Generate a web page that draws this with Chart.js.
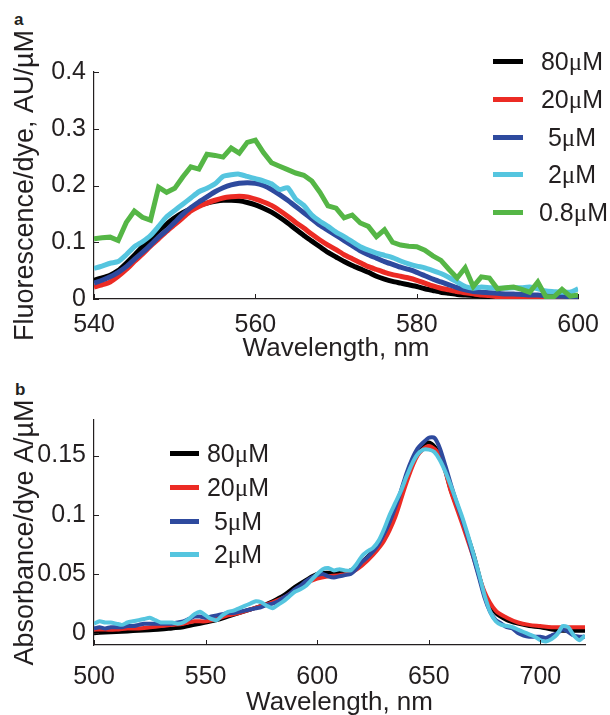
<!DOCTYPE html>
<html>
<head>
<meta charset="utf-8">
<script src="https://cdn.jsdelivr.net/npm/chart.js@4.4.1/dist/chart.umd.min.js"></script>
<style>
  body { margin: 0; width: 610px; height: 715px; overflow: hidden; position: relative; background: #fff; }
  .tag { position: absolute; font: bold 17px "Liberation Sans", Arial, sans-serif; color: #231f20; }
  .wrap { position: absolute; left: 0; width: 610px; }
  .legend { position: absolute; font: 25px "Liberation Sans", Arial, sans-serif; color: #231f20; }
  .legend .row { display: flex; align-items: center; }
  .legend .swatch { height: 5px; }
  .legend .txt { text-align: center; white-space: nowrap; }
  .mu { font-family: "Liberation Serif", "DejaVu Serif", serif; }
</style>
</head>
<body>
<div class="tag" style="left:14px; top:10px">a</div>
<div class="tag" style="left:15px; top:380px">b</div>
<div class="wrap" style="top:0; height:366px"><canvas id="chartA" width="610" height="366"></canvas></div>
<div class="wrap" style="top:360px; height:370px"><canvas id="chartB" width="610" height="370"></canvas></div>
<div id="legendA" class="legend" style="left:493px; top:43px"></div>
<div id="legendB" class="legend" style="left:170px; top:437px"></div>

<script>
const FONT = '"Liberation Sans", Arial, Helvetica, sans-serif';
const INK = "#231f20";

// ---- panel a: fluorescence ----
const labelsA = ["80µM", "20µM", "5µM", "2µM", "0.8µM"];
const colorsA = ["#000000", "#ec2b24", "#2e4a9e", "#55c5df", "#55b646"];
const xTicksA = [540, 560, 580, 600];
const yTicksA = [0, 0.1, 0.2, 0.3, 0.4];
const yTickLabelsA = ["0", "0.1", "0.2", "0.3", "0.4"];

const wlA = [540, 541, 542, 543, 544, 545, 546, 547, 548, 549,
  550, 551, 552, 553, 554, 555, 556, 557, 558, 559,
  560, 561, 562, 563, 564, 565, 566, 567, 568, 569,
  570, 571, 572, 573, 574, 575, 576, 577, 578, 579,
  580, 581, 582, 583, 584, 585, 586, 587, 588, 589,
  590, 591, 592, 593, 594, 595, 596, 597, 598, 599, 600];

const fl80 = [0.033, 0.037, 0.042, 0.050, 0.063, 0.077, 0.092, 0.106, 0.120, 0.132,
  0.143, 0.152, 0.159, 0.165, 0.169, 0.172, 0.174, 0.174, 0.173, 0.170,
  0.166, 0.160, 0.153, 0.144, 0.134, 0.123, 0.112, 0.102, 0.092, 0.082,
  0.074, 0.066, 0.059, 0.053, 0.047, 0.040, 0.035, 0.031, 0.028, 0.025,
  0.022, 0.018, 0.015, 0.012, 0.010, 0.008, 0.007, 0.006, 0.005, 0.004,
  0.003, 0.002, 0.002, 0.001, 0.001, 0.001, 0, 0, 0, 0, 0];
const fl20 = [0.021, 0.025, 0.030, 0.040, 0.052, 0.066, 0.079, 0.093, 0.106, 0.119,
  0.131, 0.143, 0.155, 0.163, 0.169, 0.174, 0.178, 0.180, 0.181, 0.180,
  0.176, 0.171, 0.165, 0.156, 0.146, 0.135, 0.125, 0.114, 0.104, 0.095,
  0.087, 0.078, 0.071, 0.064, 0.057, 0.052, 0.047, 0.043, 0.040, 0.037,
  0.033, 0.028, 0.023, 0.019, 0.016, 0.013, 0.011, 0.009, 0.007, 0.006,
  0.004, 0.004, 0.003, 0.002, 0.002, 0.002, 0.001, 0.001, 0.001, 0.001, 0.001];
const fl5 = [0.028, 0.033, 0.039, 0.047, 0.057, 0.070, 0.082, 0.095, 0.109, 0.121,
  0.135, 0.149, 0.161, 0.171, 0.180, 0.189, 0.196, 0.201, 0.204, 0.205,
  0.204, 0.200, 0.193, 0.184, 0.174, 0.163, 0.152, 0.141, 0.130, 0.121,
  0.112, 0.103, 0.094, 0.085, 0.078, 0.072, 0.066, 0.061, 0.056, 0.052,
  0.047, 0.041, 0.035, 0.030, 0.025, 0.020, 0.016, 0.013, 0.012, 0.011,
  0.010, 0.009, 0.009, 0.008, 0.007, 0.007, 0.006, 0.005, 0.005, 0.004, 0.004];
const fl2 = [0.054, 0.058, 0.063, 0.066, 0.078, 0.092, 0.101, 0.112, 0.128, 0.145,
  0.156, 0.167, 0.178, 0.189, 0.195, 0.203, 0.216, 0.219, 0.220, 0.216,
  0.212, 0.208, 0.203, 0.193, 0.196, 0.176, 0.165, 0.148, 0.137, 0.128,
  0.118, 0.110, 0.101, 0.092, 0.086, 0.081, 0.077, 0.073, 0.067, 0.062,
  0.058, 0.055, 0.050, 0.045, 0.038, 0.030, 0.022, 0.019, 0.021, 0.020,
  0.019, 0.019, 0.020, 0.020, 0.021, 0.018, 0.014, 0.013, 0.012, 0.012, 0.018];
const fl08 = [0.106, 0.108, 0.109, 0.103, 0.135, 0.155, 0.144, 0.139, 0.197, 0.188,
  0.195, 0.215, 0.233, 0.229, 0.255, 0.253, 0.250, 0.266, 0.257, 0.276,
  0.280, 0.258, 0.240, 0.234, 0.228, 0.222, 0.218, 0.208, 0.188, 0.164,
  0.160, 0.143, 0.148, 0.134, 0.128, 0.110, 0.122, 0.100, 0.095, 0.093,
  0.092, 0.086, 0.076, 0.068, 0.052, 0.037, 0.055, 0.022, 0.039, 0.037,
  0.018, 0.020, 0.021, 0.017, 0.012, 0.030, 0.004, 0.004, 0.017, 0.005, 0.007];

// ---- panel b: absorbance ----
const labelsB = ["80µM", "20µM", "5µM", "2µM"];
const colorsB = ["#000000", "#ec2b24", "#2e4a9e", "#55c5df"];
const xTicksB = [500, 550, 600, 650, 700];
const yTicksB = [0, 0.05, 0.1, 0.15];
const yTickLabelsB = ["0", "0.05", "0.1", "0.15"];

const wlB5 = [500, 505, 510, 515, 520, 525, 530, 535, 540, 545,
  550, 555, 560, 565, 570, 575, 580, 585, 590, 595,
  600, 605, 610, 615, 620, 625, 630, 635, 640, 645,
  650, 655, 660, 665, 670, 675, 680, 685, 690, 695,
  700, 705, 710, 715, 720];
const ab80 = [0.000, 0.0005, 0.001, 0.0015, 0.002, 0.0025, 0.003, 0.004, 0.005, 0.007,
  0.009, 0.011, 0.014, 0.017, 0.020, 0.023, 0.027, 0.032, 0.039, 0.045,
  0.050, 0.051, 0.051, 0.053, 0.060, 0.069, 0.081, 0.103, 0.133, 0.154,
  0.161, 0.151, 0.120, 0.095, 0.067, 0.033, 0.017, 0.011, 0.008, 0.006,
  0.005, 0.003, 0.002, 0.002, 0.002];
const ab20 = [0.003, 0.003, 0.003, 0.004, 0.004, 0.005, 0.006, 0.007, 0.008, 0.010,
  0.010, 0.012, 0.015, 0.017, 0.020, 0.023, 0.026, 0.030, 0.036, 0.042,
  0.046, 0.048, 0.049, 0.051, 0.057, 0.066, 0.078, 0.098, 0.127, 0.150,
  0.158, 0.150, 0.119, 0.092, 0.064, 0.035, 0.019, 0.013, 0.009, 0.007,
  0.006, 0.005, 0.005, 0.005, 0.005];

const wlB = [500, 502.5, 505, 507.5, 510, 512.5, 515, 517.5, 520, 522.5,
  525, 527.5, 530, 532.5, 535, 537.5, 540, 542.5, 545, 547.5,
  550, 552.5, 555, 557.5, 560, 562.5, 565, 567.5, 570, 572.5,
  575, 577.5, 580, 582.5, 585, 587.5, 590, 592.5, 595, 597.5,
  600, 602.5, 605, 607.5, 610, 612.5, 615, 617.5, 620, 622.5,
  625, 627.5, 630, 632.5, 635, 637.5, 640, 642.5, 645, 647.5,
  650, 652.5, 655, 657.5, 660, 662.5, 665, 667.5, 670, 672.5,
  675, 677.5, 680, 682.5, 685, 687.5, 690, 692.5, 695, 697.5,
  700, 702.5, 705, 707.5, 710, 712.5, 715, 717.5, 720];
const ab5 = [0.004, 0.005, 0.004, 0.005, 0.005, 0.005, 0.006, 0.006, 0.007, 0.008,
  0.008, 0.008, 0.008, 0.008, 0.008, 0.009, 0.010, 0.012, 0.014, 0.014,
  0.013, 0.014, 0.015, 0.016, 0.017, 0.017, 0.018, 0.019, 0.020, 0.021,
  0.022, 0.024, 0.025, 0.027, 0.030, 0.033, 0.037, 0.040, 0.044, 0.047,
  0.049, 0.050, 0.048, 0.047, 0.048, 0.049, 0.050, 0.054, 0.060, 0.064,
  0.069, 0.075, 0.084, 0.094, 0.106, 0.120, 0.135, 0.147, 0.156, 0.161,
  0.165, 0.165, 0.156, 0.141, 0.125, 0.110, 0.096, 0.081, 0.064, 0.047,
  0.030, 0.018, 0.011, 0.008, 0.005, 0.004, 0.000, -0.002, -0.003, -0.003,
  -0.003, -0.004, -0.002, 0.000, 0.003, 0.001, -0.002, -0.003, -0.003];
const ab2 = [0.008, 0.010, 0.009, 0.009, 0.008, 0.007, 0.009, 0.010, 0.011, 0.012,
  0.013, 0.011, 0.009, 0.009, 0.009, 0.008, 0.009, 0.012, 0.016, 0.018,
  0.015, 0.012, 0.011, 0.015, 0.018, 0.019, 0.021, 0.023, 0.025, 0.027,
  0.026, 0.023, 0.021, 0.024, 0.027, 0.031, 0.035, 0.037, 0.040, 0.045,
  0.050, 0.054, 0.055, 0.053, 0.054, 0.053, 0.053, 0.058, 0.065, 0.069,
  0.072, 0.078, 0.088, 0.100, 0.110, 0.120, 0.132, 0.143, 0.151, 0.155,
  0.155, 0.153, 0.146, 0.136, 0.124, 0.111, 0.098, 0.083, 0.067, 0.050,
  0.032, 0.018, 0.010, 0.007, 0.006, 0.005, 0.003, 0.001, -0.001, -0.003,
  -0.006, -0.007, -0.005, -0.001, 0.006, 0.005, -0.002, -0.006, -0.002];

// short inward tick marks, matlab style
const tickMarks = {
  id: "tickMarks",
  afterDraw(chart) {
    const { ctx, chartArea: a, scales } = chart;
    ctx.save();
    ctx.strokeStyle = INK;
    ctx.lineWidth = 1;
    ctx.beginPath();
    scales.x.ticks.forEach((t) => {
      const px = Math.round(scales.x.getPixelForValue(t.value)) + 0.5;
      ctx.moveTo(px, a.bottom);
      ctx.lineTo(px, a.bottom - 5);
    });
    scales.y.ticks.forEach((t) => {
      const py = Math.round(scales.y.getPixelForValue(t.value)) + 0.5;
      ctx.moveTo(a.left, py);
      ctx.lineTo(a.left + 5, py);
    });
    ctx.stroke();
    ctx.restore();
  },
};

function series(wl, vals, label, color, width, tension, order) {
  return {
    label,
    data: wl.map((w, i) => ({ x: w, y: vals[i] })),
    borderColor: color,
    backgroundColor: color,
    borderWidth: width,
    pointRadius: 0,
    tension,
    fill: false,
    order,
  };
}

function buildChart(id, datasets, o) {
  return new Chart(document.getElementById(id), {
    type: "line",
    data: { datasets },
    options: {
      responsive: false,
      animation: false,
      layout: { padding: { top: o.padTop, right: o.padRight, left: 0, bottom: 0 } },
      plugins: { legend: { display: false }, tooltip: { enabled: false } },
      scales: {
        x: {
          type: "linear",
          min: o.xMin,
          max: o.xMax,
          afterBuildTicks: (s) => { s.ticks = o.xTicks.map((v) => ({ value: v })); },
          afterFit: (s) => { s.height = o.xHeight; },
          grid: { display: false, drawTicks: false },
          border: { display: true, color: INK, width: 1.2 },
          ticks: { font: { family: FONT, size: 25 }, color: INK, padding: o.xPad, maxRotation: 0, autoSkip: false },
          title: { display: true, text: "Wavelength, nm", font: { family: FONT, size: 26 }, color: INK, padding: { top: 0, bottom: o.titlePad } },
        },
        y: {
          type: "linear",
          min: o.yMin,
          max: o.yMax,
          afterBuildTicks: (s) => { s.ticks = o.yTicks.map((v) => ({ value: v })); },
          afterFit: (s) => { s.width = 94; },
          grid: { display: false, drawTicks: false },
          border: { display: true, color: INK, width: 1.2 },
          ticks: { font: { family: FONT, size: 25 }, color: INK, padding: 8, callback: (v, i) => o.yLabels[i] },
          title: { display: true, text: o.yTitle, font: { family: FONT, size: 27 }, color: INK, padding: { top: 9, bottom: 0 } },
        },
      },
    },
    plugins: [tickMarks],
  });
}

const valsA = [fl80, fl20, fl5, fl2, fl08];
buildChart(
  "chartA",
  valsA.map((v, i) => series(wlA, v, labelsA[i], colorsA[i], 5, i === 4 ? 0 : 0.2, 10 - i)),
  {
    padTop: 72, padRight: 24, xHeight: 67, xPad: 11, titlePad: 2,
    xMin: 540, xMax: 600, xTicks: xTicksA,
    yMin: 0, yMax: 0.4, yTicks: yTicksA, yLabels: yTickLabelsA,
    yTitle: "Fluorescence/dye, AU/µM",
  }
);

const setsB = [
  series(wlB5, ab80, labelsB[0], colorsB[0], 4, 0.3, 10),
  series(wlB5, ab20, labelsB[1], colorsB[1], 4, 0.3, 9),
  series(wlB, ab5, labelsB[2], colorsB[2], 4, 0.2, 8),
  series(wlB, ab2, labelsB[3], colorsB[3], 4, 0.2, 7),
];
buildChart("chartB", setsB, {
  padTop: 60, padRight: 25, xHeight: 85, xPad: 17, titlePad: 12,
  xMin: 500, xMax: 720, xTicks: xTicksB,
  yMin: -0.01, yMax: 0.18, yTicks: yTicksB, yLabels: yTickLabelsB,
  yTitle: "Absorbance/dye A/µM",
});

// html legends
function fillLegend(id, labels, colors, rowH, lineW, gap, txtW) {
  document.getElementById(id).innerHTML = labels
    .map(
      (l, i) => `
    <div class="row" style="height:${rowH}px">
      <span class="swatch" style="width:${lineW}px; background:${colors[i]}; margin-right:${gap}px"></span>
      <span class="txt" style="width:${txtW}px">${l.replace("µ", '<span class="mu">μ</span>')}</span>
    </div>`
    )
    .join("");
}
fillLegend("legendA", labelsA, colorsA, 37.7, 30, 16, 66);
fillLegend("legendB", labelsB, colorsB, 33.7, 29, 7, 64);
</script>
</body>
</html>
